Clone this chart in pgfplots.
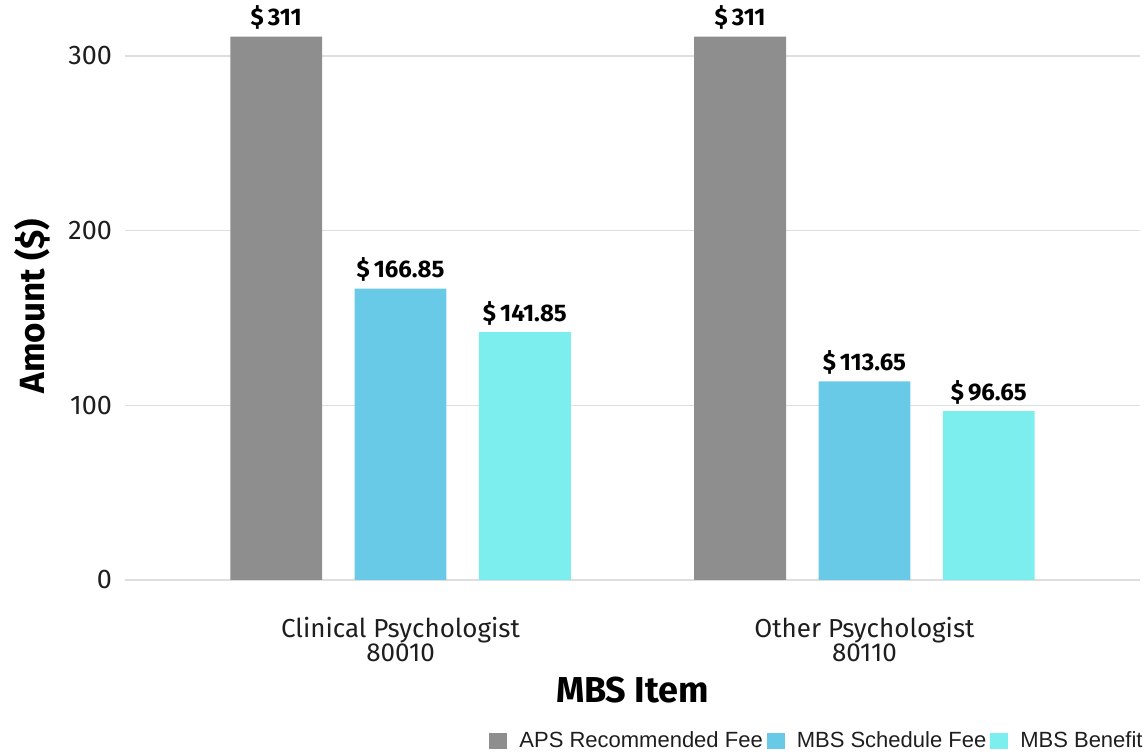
\documentclass[border=0pt]{standalone}
\usepackage{fontspec}
\setmainfont{Fira Sans}
\newfontfamily\legfont{Liberation Sans}
\usepackage{pgfplots}
\pgfplotsset{compat=1.18}
\definecolor{cgray}{RGB}{142,142,142}
\definecolor{cblue}{RGB}{104,202,230}
\definecolor{ccyan}{RGB}{124,238,238}
\definecolor{gridc}{RGB}{222,222,222}
\definecolor{txt}{RGB}{30,30,30}
\begin{document}
\begin{tikzpicture}[x=1pt,y=1pt]
\path[use as bounding box] (-62.5,-86.5) rectangle (510.5,290);
\begin{axis}[
  at={(0,0)}, anchor=south west,
  scale only axis, width=507.5pt, height=288.25pt,
  xmin=-0.594, xmax=1.594, ymin=0, ymax=330,
  ybar, bar width=0.198,
  axis line style={draw=none},
  major tick length=0pt,
  ymajorgrids, grid style={gridc, line width=0.7pt},
  ytick={0,100,200,300},
  /pgf/number format/assume math mode=true,
  xtick={0,1},
  xticklabels={{Clinical Psychologist\\80010},{Other Psychologist\\80110}},
  xticklabel style={align=center, font=\fontsize{13}{12}\selectfont, text=txt, yshift=-15pt},
  yticklabel style={font=\fontsize{13.5}{14}\selectfont, text=txt, xshift=-3pt},
  xlabel={MBS Item},
  xlabel style={at={(rel axis cs:0.5,0)}, anchor=center, yshift=-55pt, font=\bfseries\fontsize{18}{18}\selectfont, text=black},
  ylabel={Amount (\$)},
  ylabel style={at={(rel axis cs:0,0.475)}, anchor=center, yshift=46.5pt, font=\bfseries\fontsize{17.5}{18}\selectfont, text=black},
  point meta=explicit symbolic,
  nodes near coords,
  every node near coord/.append style={font=\bfseries\fontsize{12}{12}\selectfont, text=black, anchor=south, yshift=0pt},
  legend columns=3,
  legend style={draw=none, fill=none, inner sep=0pt, nodes={inner sep=0pt},
    font=\legfont\fontsize{11}{12}\selectfont, text=txt,
    at={(rel axis cs:1,0)}, anchor=east, yshift=-80.5pt, xshift=1.5pt,
    /tikz/every odd column/.append style={column sep=6pt},
    /tikz/every even column/.append style={column sep=2pt}},
  legend image code/.code={\fill[#1] (0pt,-4pt) rectangle (9pt,4pt);},
]
\addplot[fill=cgray, draw=none, bar shift=-0.268] coordinates {(0,311) [\$\,311] (1,311) [\$\,311]};
\addplot[fill=cblue, draw=none, bar shift=0] coordinates {(0,166.85) [\$\,166.85] (1,113.65) [\$\,113.65]};
\addplot[fill=ccyan, draw=none, bar shift=0.268] coordinates {(0,141.85) [\$\,141.85] (1,96.65) [\$\,96.65]};
\legend{APS Recommended Fee, MBS Schedule Fee, MBS Benefit}
\end{axis}
\end{tikzpicture}
\end{document}
